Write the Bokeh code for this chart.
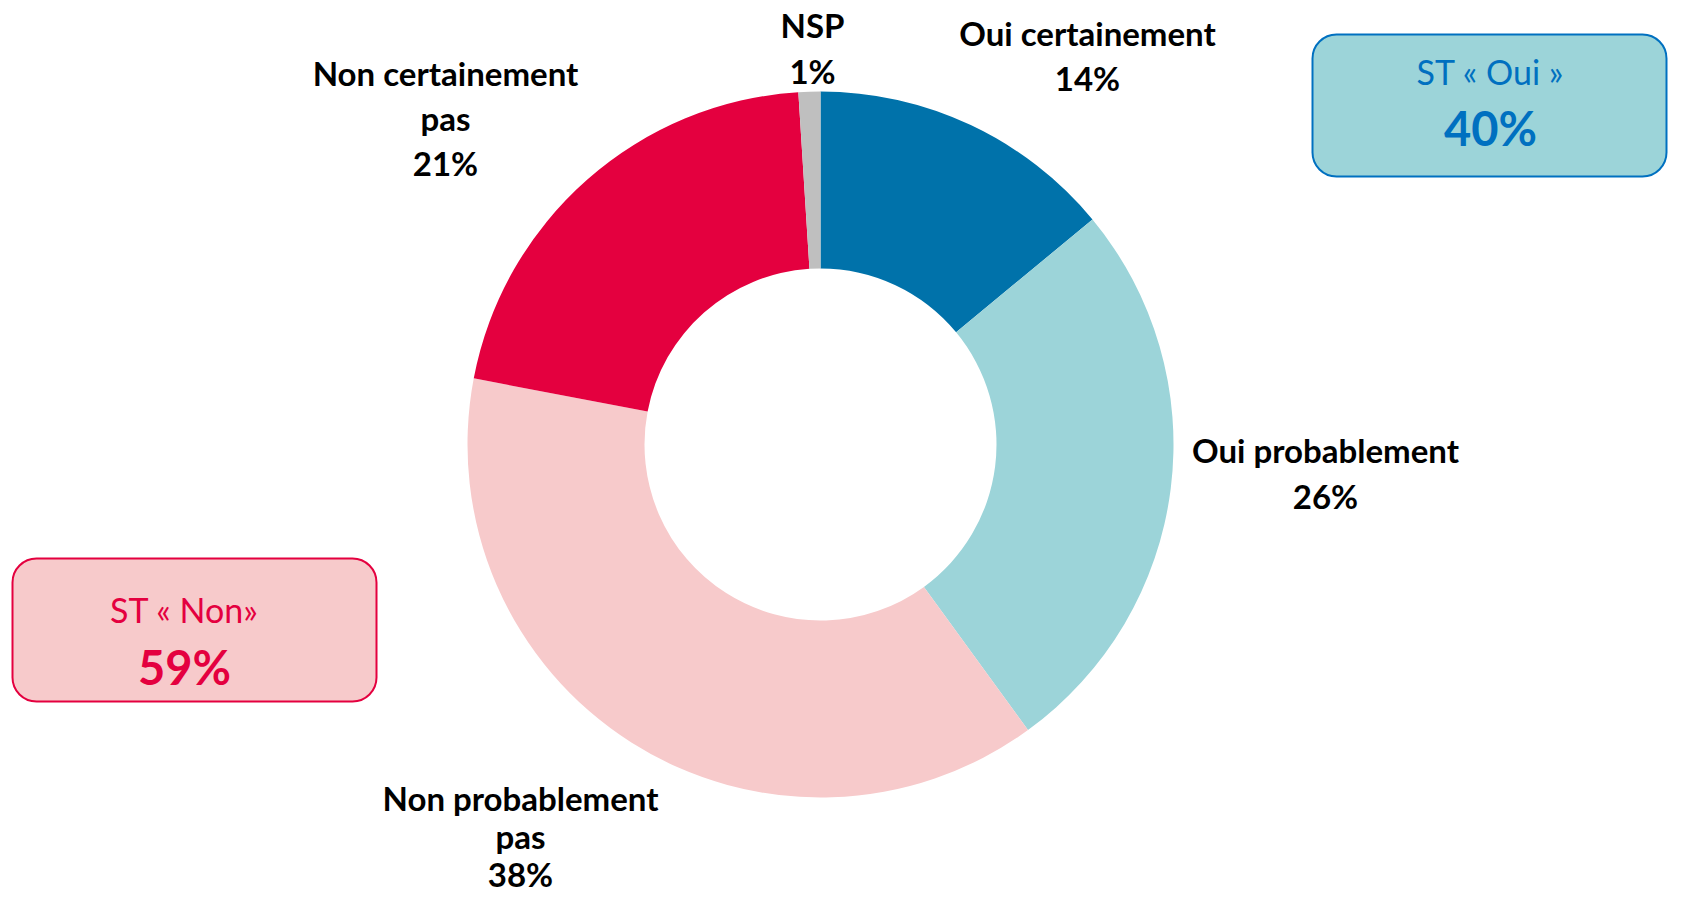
import math
from bokeh.plotting import figure
from bokeh.models import Range1d, BoxAnnotation, ColumnDataSource
from bokeh.core.properties import value
from bokeh.embed import file_html
from bokeh.resources import INLINE

# ---- data ----
categories = ["Oui certainement", "Oui probablement", "Non probablement pas",
              "Non certainement pas", "NSP"]
values = [14, 26, 38, 21, 1]
totals_labels = ["ST « Oui »", "ST « Non»"]
totals_values = [40, 59]

# ---- styles ----
colors = ["#0072AA", "#9CD4D9", "#F7CACB", "#E4003F", "#BFBFBF"]
W, H = 1669, 899

def Y(page_y):
    return H - page_y

p = figure(width=W, height=H, output_backend="svg", toolbar_location=None,
           x_range=Range1d(0, W), y_range=Range1d(0, H), min_border=0)
p.axis.visible = False
p.grid.visible = False
p.outline_line_color = None
p.background_fill_color = "white"

# donut
total = float(sum(values))
starts, ends = [], []
cum = 0.0
for v in values:
    starts.append(math.pi / 2 - 2 * math.pi * cum / total)
    cum += v
    ends.append(math.pi / 2 - 2 * math.pi * cum / total)
src = ColumnDataSource(dict(start=starts, end=ends, color=colors))
cx, cy = 820, Y(444)
p.annular_wedge(x=cx, y=cy, inner_radius=176, outer_radius=353,
                inner_radius_units="screen", outer_radius_units="screen",
                start_angle="start", end_angle="end", direction="clock",
                fill_color="color", line_color=None, source=src)

# slice labels
label_lines = [
    [categories[0], f"{values[0]}%"],
    [categories[1], f"{values[1]}%"],
    ["Non probablement", "pas", f"{values[2]}%"],
    ["Non certainement", "pas", f"{values[3]}%"],
    [categories[4], f"{values[4]}%"],
]
label_pos = [(1087, 32, 45), (1325, 449, 46), (520, 797, 38), (445, 72, 45), (812, 24, 46)]
tx, ty, tt = [], [], []
for lines, (lx, ly, gap) in zip(label_lines, label_pos):
    for k, t in enumerate(lines):
        tx.append(lx)
        ty.append(Y(ly + k * gap))
        tt.append(t)
p.text(x=tx, y=ty, text=tt, text_align="center", text_baseline="middle",
       text_font=value("Lato"), text_font_style="bold", text_font_size="33px",
       text_color="black")

# summary boxes
boxes = [
    dict(l=1312, r=1666, t=34, b=176, fill="#9CD4D9", line="#0070C0",
         tcol="#0070C0", tx=1490, ty1=71, ty2=127),
    dict(l=12, r=376, t=558, b=701, fill="#F7CACB", line="#E4003F",
         tcol="#E4003F", tx=184, ty1=609, ty2=666),
]
for b, lab, val in zip(boxes, totals_labels, totals_values):
    p.add_layout(BoxAnnotation(left=b["l"], right=b["r"], top=Y(b["t"]), bottom=Y(b["b"]),
                               fill_color=b["fill"], fill_alpha=1.0,
                               line_color=b["line"], line_alpha=1.0, line_width=2,
                               border_radius=24, level="underlay"))
    p.text(x=[b["tx"]], y=[Y(b["ty1"])], text=[lab], text_align="center",
           text_baseline="middle", text_font=value("Lato"), text_font_size="34px",
           text_color=b["tcol"])
    p.text(x=[b["tx"]], y=[Y(b["ty2"])], text=[f"{val}%"], text_align="center",
           text_baseline="middle", text_font=value("Lato"), text_font_style="bold",
           text_font_size="47px", text_color=b["tcol"])

open("out.html", "w").write(file_html(p, INLINE))
